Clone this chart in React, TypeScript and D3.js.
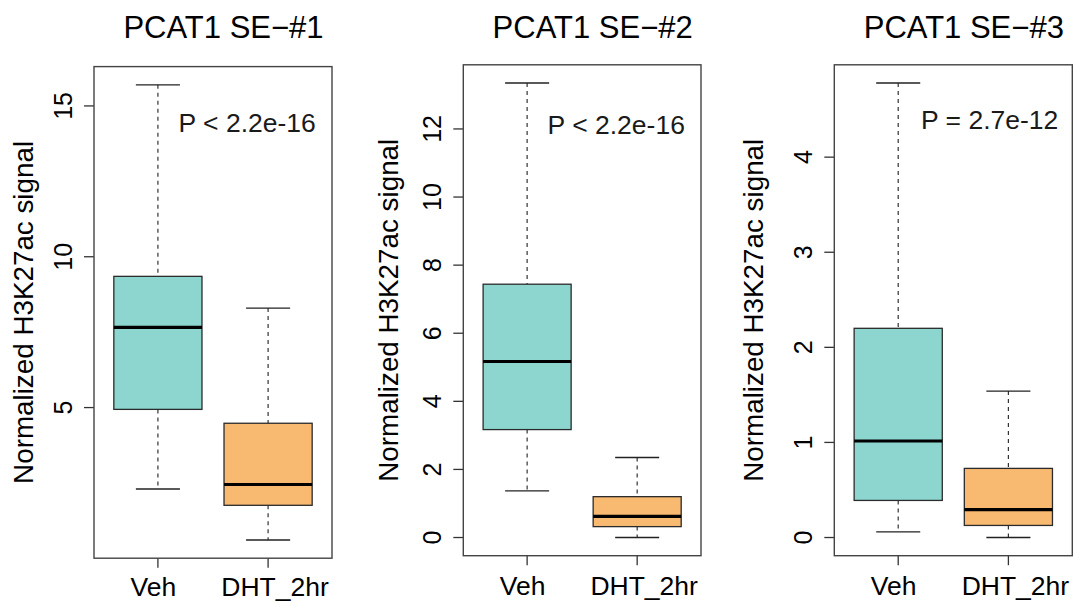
import React from "react";
import * as d3 from "d3";

// ---- data ----
const groups = ["Veh", "DHT_2hr"];
const titles = ["PCAT1 SE\u2212#1", "PCAT1 SE\u2212#2", "PCAT1 SE\u2212#3"];
const pLabels = ["P < 2.2e-16", "P < 2.2e-16", "P = 2.7e-12"];
const yAxisLabel = "Normalized H3K27ac signal";

// [lowWhisker, Q1, median, Q3, highWhisker] per group
const se1Stats = [
  [2.3, 4.94, 7.66, 9.35, 15.7],
  [0.61, 1.76, 2.45, 4.48, 8.3],
];
const se2Stats = [
  [1.37, 3.17, 5.17, 7.44, 13.35],
  [0.0, 0.32, 0.62, 1.2, 2.35],
];
const se3Stats = [
  [0.06, 0.39, 1.015, 2.2, 4.78],
  [0.0, 0.127, 0.293, 0.727, 1.54],
];
const se1Ticks = [5, 10, 15];
const se2Ticks = [0, 2, 4, 6, 8, 10, 12];
const se3Ticks = [0, 1, 2, 3, 4];
// p-value annotation position in data units [x, y]
const pPositions = [
  [1.81, 14.12],
  [1.81, 11.86],
  [1.83, 4.3],
];

const statsList = [se1Stats, se2Stats, se3Stats];
const tickList = [se1Ticks, se2Ticks, se3Ticks];

// ---- layout ----
const frames = [
  { left: 94, right: 332, top: 66.6, bottom: 558.2, ylabX: 33.3, xlabY: 595.6 },
  { left: 463.3, right: 701, top: 64.8, bottom: 555.7, ylabX: 398.3, xlabY: 594.8 },
  { left: 834.3, right: 1072.3, top: 64.8, bottom: 555.7, ylabX: 763.3, xlabY: 594.8 },
];
const xLabelShift = [-4.5, 7];
const fillColors = ["#8DD6CF", "#F8B971"];
const FONT = "'Liberation Sans', Arial, Helvetica, sans-serif";

function Panel({ idx }: { idx: number }) {
  const f = frames[idx];
  const stats = statsList[idx];
  const ticks = tickList[idx];
  const lo = d3.min(stats, (s) => s[0]) as number;
  const hi = d3.max(stats, (s) => s[4]) as number;
  const ext = (hi - lo) * 0.04;
  const y = d3.scaleLinear().domain([lo - ext, hi + ext]).range([f.bottom, f.top]);
  const x = d3.scaleLinear().domain([0.42, 2.58]).range([f.left, f.right]);
  const boxHalf = x(1.4) - x(1);
  const capHalf = boxHalf / 2;
  const midY = (f.top + f.bottom) / 2;
  const stroke = "#2b2b2b";
  return (
    <g>
      <text
        x={(f.left + f.right) / 2 + 10.5}
        y={37.5}
        fontSize={31}
        fontFamily={FONT}
        textAnchor="middle"
        fill="#000"
      >
        {titles[idx]}
      </text>
      {stats.map((s, i) => {
        const cx = x(i + 1);
        return (
          <g key={i}>
            <line x1={cx} x2={cx} y1={y(s[4])} y2={y(s[3])} stroke="#333" strokeWidth={1.2} strokeDasharray="4,4" />
            <line x1={cx} x2={cx} y1={y(s[1])} y2={y(s[0])} stroke="#333" strokeWidth={1.2} strokeDasharray="4,4" />
            <line x1={cx - capHalf} x2={cx + capHalf} y1={y(s[4])} y2={y(s[4])} stroke="#222" strokeWidth={1.3} />
            <line x1={cx - capHalf} x2={cx + capHalf} y1={y(s[0])} y2={y(s[0])} stroke="#222" strokeWidth={1.3} />
            <rect
              x={cx - boxHalf}
              y={y(s[3])}
              width={boxHalf * 2}
              height={y(s[1]) - y(s[3])}
              fill={fillColors[i]}
              stroke={stroke}
              strokeWidth={1.3}
            />
            <line x1={cx - boxHalf} x2={cx + boxHalf} y1={y(s[2])} y2={y(s[2])} stroke="#000" strokeWidth={3.2} />
            <line x1={cx} x2={cx} y1={f.bottom} y2={f.bottom + 9.5} stroke="#333" strokeWidth={1.3} />
            <text x={cx + xLabelShift[i]} y={f.xlabY} fontSize={26.5} fontFamily={FONT} textAnchor="middle" fill="#000">
              {groups[i]}
            </text>
          </g>
        );
      })}
      {ticks.map((t) => (
        <g key={t}>
          <line x1={f.left - 10} x2={f.left} y1={y(t)} y2={y(t)} stroke="#333" strokeWidth={1.3} />
          <text
            transform={`translate(${f.left - 22.5},${y(t)}) rotate(-90)`}
            fontSize={25}
            fontFamily={FONT}
            textAnchor="middle"
            fill="#000"
          >
            {t}
          </text>
        </g>
      ))}
      <rect
        x={f.left}
        y={f.top}
        width={f.right - f.left}
        height={f.bottom - f.top}
        fill="none"
        stroke="#444"
        strokeWidth={1.4}
      />
      <text
        transform={`translate(${f.ylabX},${midY}) rotate(-90)`}
        fontSize={27.8}
        fontFamily={FONT}
        textAnchor="middle"
        fill="#000"
      >
        {yAxisLabel}
      </text>
      <text
        x={x(pPositions[idx][0])}
        y={y(pPositions[idx][1])}
        fontSize={26.5}
        fontFamily={FONT}
        textAnchor="middle"
        fill="#1a1a1a"
      >
        {pLabels[idx]}
      </text>
    </g>
  );
}

export default function App() {
  return (
    <svg
      width={1075}
      height={603}
      style={{ position: "absolute", left: 0, top: 0, background: "#fff" }}
    >
      <rect x={0} y={0} width={1075} height={603} fill="#fff" />
      {[0, 1, 2].map((i) => (
        <Panel key={i} idx={i} />
      ))}
    </svg>
  );
}
